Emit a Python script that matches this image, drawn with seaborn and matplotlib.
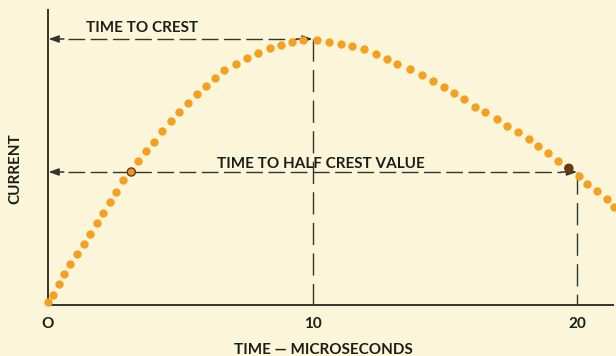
import matplotlib
matplotlib.use("Agg")
import matplotlib.pyplot as plt
import seaborn as sns
import numpy as np
import pandas as pd

# Impulse current wave: time in microseconds, current as a fraction of crest value
time_us = [0.00, 0.19, 0.43, 0.62, 0.84, 1.10, 1.35, 1.59, 1.84, 2.08, 2.33, 2.58,
           2.84, 3.41, 3.71, 4.01, 4.32, 4.64, 4.95, 5.28, 5.62, 5.96, 6.30, 6.67,
           7.11, 7.52, 7.95, 8.38, 8.80, 9.21, 9.65, 10.17, 10.62, 11.08, 11.49,
           11.94, 12.39, 12.82, 13.21, 13.69, 14.13, 14.54, 14.97, 15.36, 15.74,
           16.15, 16.53, 16.98, 17.35, 17.77, 18.17, 18.53, 18.89, 19.28, 20.08,
           20.38, 20.77, 21.12, 21.40]
current = [0.010, 0.039, 0.078, 0.115, 0.153, 0.191, 0.228, 0.267, 0.307, 0.347,
           0.386, 0.426, 0.470, 0.541, 0.580, 0.614, 0.655, 0.692, 0.726, 0.761,
           0.792, 0.824, 0.852, 0.882, 0.907, 0.929, 0.948, 0.965, 0.979, 0.989,
           0.996, 0.998, 0.990, 0.982, 0.973, 0.961, 0.944, 0.926, 0.907, 0.887,
           0.865, 0.842, 0.819, 0.796, 0.773, 0.745, 0.726, 0.700, 0.673, 0.650,
           0.623, 0.598, 0.570, 0.541, 0.486, 0.456, 0.429, 0.400, 0.370]

# Points where the wave passes half of its crest value
half_time = [3.15, 19.69]
half_current = [0.50, 0.514]

crest_time = 10
crest_value = 1.0
half_tail_time = 20
half_value = 0.5

xticks = [0, 10, 20]
xtick_labels = ["O", "10", "20"]

bg = "#FBF5DA"
ink = "#35352d"
orange = "#F5A021"

sns.set_theme(style="white")
plt.rcParams["font.family"] = ["Lato", "DejaVu Sans"]
plt.rcParams["font.weight"] = "bold"

fig = plt.figure(figsize=(6.16, 3.56), dpi=100, facecolor=bg)
ax = fig.add_axes([48 / 616, 51 / 356, 565 / 616, 295 / 356])
ax.set_facecolor(bg)

ax.set_xlim(0, 21.36)
ax.set_ylim(0, 1.109)

# Dashed guide lines
dash_h = (12, 4)
dash_v = (16, 6)
ax.plot([0.75, crest_time - 0.6], [crest_value, crest_value], color=ink, lw=1.0,
        dashes=dash_h, zorder=2)
ax.plot([crest_time, crest_time], [crest_value, 0], color=ink, lw=1.0,
        dashes=dash_v, zorder=2)
ax.plot([0.75, half_tail_time - 0.6], [half_value, half_value], color=ink, lw=1.0,
        dashes=dash_h, zorder=2)
ax.plot([half_tail_time, half_tail_time], [half_value, 0], color=ink, lw=1.0,
        dashes=dash_v, zorder=2)

# Arrow heads at both ends of the time spans
arrow = dict(arrowstyle="-|>,head_length=0.5,head_width=0.18", color=ink, lw=1.1,
             shrinkA=0, shrinkB=0)
for y_lvl, x_end in [(crest_value, crest_time), (half_value, half_tail_time)]:
    ax.annotate("", xy=(0.02, y_lvl), xytext=(0.6, y_lvl), arrowprops=arrow, zorder=3)
    ax.annotate("", xy=(x_end, y_lvl), xytext=(x_end - 0.6, y_lvl), arrowprops=arrow,
                zorder=3)

# Dotted current wave
wave = pd.DataFrame({"time": time_us, "current": current})
sns.scatterplot(data=wave, x="time", y="current", ax=ax, color=orange, s=36,
                linewidth=0, zorder=4, clip_on=False, legend=False)
half_pts = pd.DataFrame({"time": half_time, "current": half_current})
sns.scatterplot(data=half_pts, x="time", y="current", ax=ax,
                hue=["rise", "tail"], palette=["#E8962a", "#6b3a12"],
                edgecolor="#6b3a12", linewidth=1.0, s=34, zorder=5, legend=False)

ax.text(1.44, 1.027, "TIME TO CREST", fontsize=11, fontweight="bold", color="#1c1c18",
        ha="left", va="baseline")
ax.text(6.39, 0.515, "TIME TO HALF CREST VALUE", fontsize=11, fontweight="bold",
        color="#1c1c18", ha="left", va="baseline")

ax.set_xticks(xticks)
ax.set_xticklabels(xtick_labels)
ax.set_yticks([])
ax.tick_params(axis="x", length=0, pad=9, labelsize=11, colors="#1c1c18")

ax.set_xlabel("TIME \u2014 MICROSECONDS", fontsize=11, fontweight="bold", color="#1c1c18")
ax.xaxis.set_label_coords(0.487, -0.128)
ax.set_ylabel("CURRENT", fontsize=11, fontweight="bold", color="#1c1c18")
ax.yaxis.set_label_coords(-0.045, 0.461)

for side in ["top", "right"]:
    ax.spines[side].set_visible(False)
for side in ["left", "bottom"]:
    ax.spines[side].set_color(ink)
    ax.spines[side].set_linewidth(1.4)

fig.savefig("out.png", dpi=100, facecolor=bg)
